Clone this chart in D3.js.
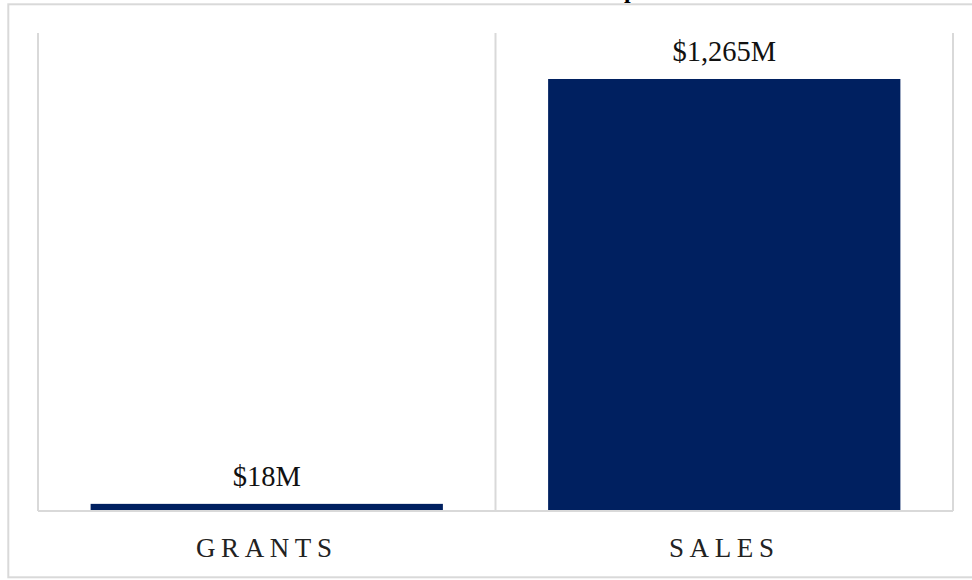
<!DOCTYPE html>
<html>
<head>
<meta charset="utf-8">
<script src="https://cdn.jsdelivr.net/npm/d3@7"></script>
<style>
  html, body { margin: 0; padding: 0; background: #fff; }
  svg { display: block; }
</style>
</head>
<body>
<svg id="chart" width="972" height="580"></svg>
<script>
// Revenue by source, in millions of dollars
const categories = ["GRANTS", "SALES"];
const values = [18, 1265];
const valueLabels = ["$18M", "$1,265M"];
const titleText = "Revenue Comparison";

const W = 972, H = 580;
const plot = { left: 38, right: 953, top: 33, bottom: 510 };
const serif = '"Liberation Serif", "Times New Roman", serif';

const svg = d3.select("#chart");

const x = d3.scaleBand()
  .domain(categories)
  .range([plot.left, plot.right])
  .paddingInner(0.23)
  .paddingOuter(0.115);

const y = d3.scaleLinear()
  .domain([0, 1400])
  .range([plot.bottom, plot.top]);

// Title sits above the frame, mostly beyond the top edge
const title = svg.append("text")
  .attr("x", 0)
  .attr("y", -2)
  .attr("font-family", serif)
  .attr("font-weight", "bold")
  .attr("font-size", 24)
  .attr("fill", "#000")
  .text(titleText);
const pIndex = titleText.indexOf("p");
const pStart = title.node().getStartPositionOfChar(pIndex).x;
title.attr("x", 624 - pStart);

// Outer frame
svg.append("rect")
  .attr("x", 8.3)
  .attr("y", 4.3)
  .attr("width", 1000)
  .attr("height", 573)
  .attr("fill", "none")
  .attr("stroke", "#d9d9d9")
  .attr("stroke-width", 2);

// Vertical separators at category band boundaries
const step = x.step();
const bounds = d3.range(categories.length + 1).map(i => plot.left + i * step);
svg.append("g")
  .selectAll("line")
  .data(bounds)
  .join("line")
  .attr("x1", d => d).attr("x2", d => d)
  .attr("y1", plot.top).attr("y2", plot.bottom + 1)
  .attr("stroke", "#d9d9d9")
  .attr("stroke-width", 2);

// Bars
svg.append("g")
  .selectAll("rect")
  .data(categories)
  .join("rect")
  .attr("x", d => x(d))
  .attr("width", x.bandwidth())
  .attr("y", (d, i) => y(values[i]))
  .attr("height", (d, i) => y(0) - y(values[i]))
  .attr("fill", "#002060");

// Baseline
svg.append("line")
  .attr("x1", plot.left).attr("x2", plot.right)
  .attr("y1", plot.bottom + 1).attr("y2", plot.bottom + 1)
  .attr("stroke", "#d9d9d9")
  .attr("stroke-width", 2);

// Value labels
svg.append("g")
  .selectAll("text")
  .data(categories)
  .join("text")
  .attr("x", d => x(d) + x.bandwidth() / 2)
  .attr("y", (d, i) => y(values[i]) - 18)
  .attr("text-anchor", "middle")
  .attr("font-family", serif)
  .attr("font-size", 28.5)
  .attr("fill", "#111")
  .text((d, i) => valueLabels[i]);

// Category labels
svg.append("g")
  .selectAll("text")
  .data(categories)
  .join("text")
  .attr("x", d => x(d) + x.bandwidth() / 2)
  .attr("y", 556.5)
  .attr("text-anchor", "middle")
  .attr("font-family", serif)
  .attr("font-size", 27)
  .attr("letter-spacing", "5.6px")
  .attr("fill", "#222")
  .text(d => d);
</script>
</body>
</html>
